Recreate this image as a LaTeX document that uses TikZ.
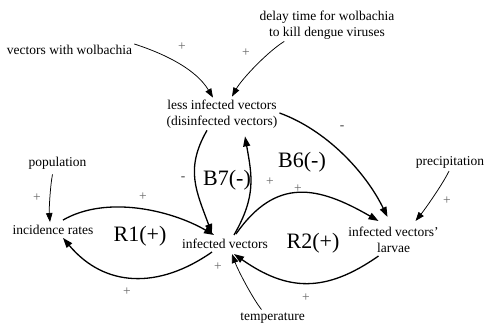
\documentclass[tikz,border=0pt]{standalone}
\usepackage{fontspec}
\setmainfont{Liberation Serif}
\usetikzlibrary{arrows.meta}
\begin{document}
\begin{tikzpicture}[x=1pt,y=1pt,
  every node/.style={font=\rmfamily\fontsize{13.5}{16}\selectfont, inner sep=2pt},
  var/.style={align=center},
  loopname/.style={font=\rmfamily\fontsize{22}{24}\selectfont},
  possign/.style={text=black!60},
  negsign/.style={text=black!75},
  loopedge/.style={line width=1.3pt, -{Triangle[length=10pt,width=7pt]}},
  inedge/.style={line width=0.75pt, -{Triangle[length=9pt,width=6.5pt]}}
]
\useasboundingbox (0,0) rectangle (485,326);
% variables
\node[var] (wol)  at (69.5,276) {vectors with wolbachia};
\node[var] (delay) at (327,301) {delay time for wolbachia\\to kill dengue viruses};
\node[var] (less) at (222,212) {less infected vectors\\(disinfected vectors)};
\node[var] (pop)  at (57.5,163) {population};
\node[var] (inc)  at (53,96) {incidence rates};
\node[var] (inf)  at (225,82) {infected vectors};
\node[var] (larv) at (393.5,86) {infected vectors\symbol{39}\\larvae};
\node[var] (prec) at (450,164) {precipitation};
\node[var] (temp) at (272.5,8) {temperature};
% loop names
\node[loopname] (b7) at (227,146) {B7(-)};
\node[loopname] (b6) at (302,164) {B6(-)};
\node[loopname] (r1) at (140,90) {R1(+)};
\node[loopname] (r2) at (313,83) {R2(+)};
% polarity signs
\node[possign] (p1) at (182,279) {+};
\node[possign] (p2) at (246,273) {+};
\node[negsign] (m1) at (342,198) {-};
\node[possign] (p3) at (37,128) {+};
\node[possign] (p4) at (143,129) {+};
\node[negsign] (m2) at (183,147) {-};
\node[possign] (p5) at (270,144) {+};
\node[possign] (p6) at (298,137) {+};
\node[possign] (p7) at (447,125) {+};
\node[possign] (p8) at (218,59) {+};
\node[possign] (p9) at (127,34) {+};
\node[possign] (p10) at (306,28) {+};
% input links
\draw[inedge] ([yshift=6pt]wol.east) .. controls +(-18:35) and +(121:32) .. ([xshift=-9pt]less.north);
\draw[inedge] (delay.201) .. controls +(212:20) and +(61:20) .. ([xshift=10pt,yshift=1pt]less.north);
\draw[inedge] ([xshift=-1pt,yshift=-1pt]prec.south) .. controls +(244:15) and +(51:15) .. ([xshift=22pt,yshift=4pt]larv.north);
\draw[inedge] ([xshift=-5pt,yshift=-3pt]pop.south) .. controls +(259:12) and +(95:12) .. ([xshift=-3pt,yshift=1pt]inc.north);
\draw[inedge] ([xshift=-11pt,yshift=1pt]temp.north) .. controls +(128:16) and +(-70:16) .. ([xshift=7pt,yshift=-3pt]inf.south);
% loop links
\draw[loopedge] ([xshift=10pt,yshift=3pt]inc.north) .. controls +(30:50) and +(150:50) .. ([xshift=-11pt,yshift=2pt]inf.north);
\draw[loopedge] ([xshift=-13pt,yshift=-1pt]inf.south) .. controls +(215:65) and +(-50:65) .. ([xshift=10pt,yshift=-1pt]inc.south);
\draw[loopedge] ([xshift=-15pt]less.south) .. controls +(240:45) and +(110:45) .. ([xshift=-13pt,yshift=3pt]inf.north);
\draw[loopedge] ([xshift=9pt,yshift=2pt]inf.north) .. controls +(60:45) and +(-80:40) .. ([xshift=23pt,yshift=-6pt]less.south);
\draw[loopedge] ([xshift=11pt,yshift=3pt]inf.north) .. controls +(55:70) and +(150:70) .. ([xshift=-15pt,yshift=4pt]larv.north);
\draw[loopedge] ([xshift=-15pt,yshift=-1pt]larv.south) .. controls +(215:65) and +(-35:65) .. ([xshift=9pt,yshift=-3pt]inf.south);
\draw[loopedge] ([yshift=1pt]less.east) .. controls +(-20:50) and +(116:50) .. ([xshift=-6pt,yshift=8pt]larv.north);
\end{tikzpicture}
\end{document}
